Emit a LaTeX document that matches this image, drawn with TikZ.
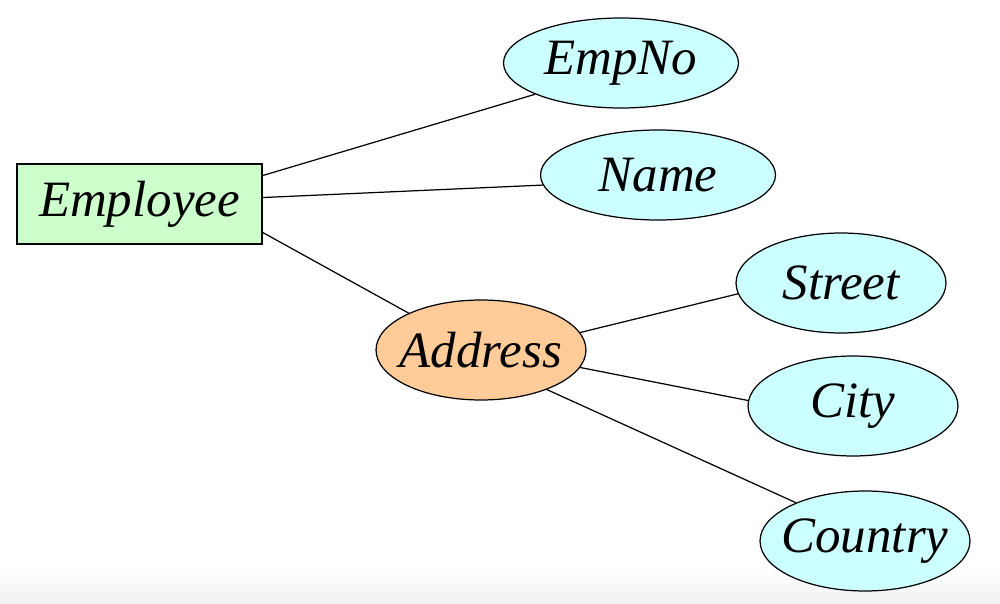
\documentclass[tikz,border=0pt]{standalone}
\usepackage{fontspec}
\setmainfont{Liberation Serif}
\usetikzlibrary{shapes.geometric}
\definecolor{entgreen}{HTML}{CCFFCC}
\definecolor{attrcyan}{HTML}{CCFFFF}
\definecolor{comporange}{HTML}{FFCC99}

\begin{document}
\begin{tikzpicture}[x=0.02cm, y=-0.02cm,
execute at begin node={\hbox to 0pt\bgroup\hss}, execute at end node={\hss\egroup},
every node/.style={draw, inner sep=0pt, line width=0.7pt, font=\fontsize{29}{35}\selectfont\itshape},
entity/.style={rectangle, fill=entgreen, minimum width=4.9cm, minimum height=1.6cm},
attr/.style={ellipse, fill=attrcyan, minimum width=4.2cm, minimum height=2cm},
wide/.style={minimum width=4.7cm, minimum height=1.8cm},
link/.style={line width=0.7pt}]
\useasboundingbox (0,0) rectangle (1000,604);
%bottom strip
\shade[top color=white, bottom color=black!6] (0,570) rectangle (1000,604);

%entity and its attributes
\node[entity](emp) at (139.5,204) {Employee};
\node[attr,wide](empno) at (621,63) {EmpNo};
\node[attr,wide](name) at (658,175) {Name};
\node[attr,fill=comporange](addr) at (481,350) {Address};
\node[attr](street) at (841,283) {Street};
\node[attr](city) at (853,406) {City};
\node[attr](country) at (865,541) {Country};

%connections (anchor angles)
\foreach \a/\b in {emp.13/empno.200, emp.3/name.185, emp.-13/addr.153,
	addr.10/street.186, addr.-10/city.177, addr.-31/country.151}{
	\draw[link] (\a) -- (\b);
}
\end{tikzpicture}
\end{document}
